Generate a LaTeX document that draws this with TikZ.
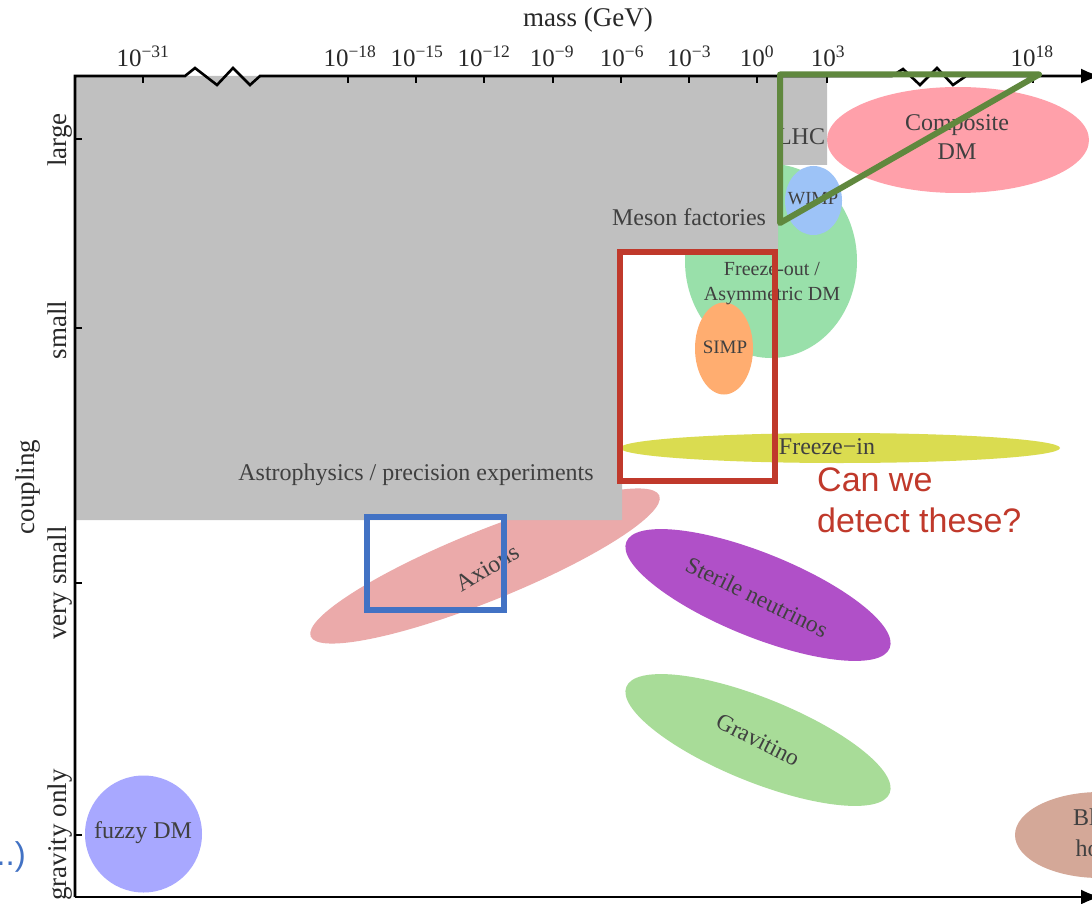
\documentclass[tikz,border=0pt]{standalone}
\usepackage{fontspec}
\setmainfont{Liberation Serif}
\newfontfamily\arialfont{Liberation Sans}
\usetikzlibrary{shapes.geometric,arrows.meta}
\definecolor{graybg}{RGB}{192,192,192}
\definecolor{txtgray}{RGB}{64,64,64}
\definecolor{axtxt}{RGB}{40,40,40}
\definecolor{cfo}{RGB}{153,224,170}
\definecolor{cwimp}{RGB}{157,195,247}
\definecolor{csimp}{RGB}{255,173,112}
\definecolor{ccomp}{RGB}{255,160,170}
\definecolor{cfi}{RGB}{218,220,80}
\definecolor{caxion}{RGB}{235,170,170}
\definecolor{cster}{RGB}{176,80,200}
\definecolor{cgrav}{RGB}{168,220,152}
\definecolor{cfuzzy}{RGB}{168,168,255}
\definecolor{cbh}{RGB}{212,168,152}
\definecolor{cgreen}{RGB}{96,136,62}
\definecolor{cred}{RGB}{192,57,43}
\definecolor{cblue}{RGB}{66,114,196}
\begin{document}
\begin{tikzpicture}[x=1pt,y=-1pt,
  every node/.style={inner sep=0pt},
  blob/.style={ellipse, inner sep=0pt, draw=none},
  plab/.style={font=\fontsize{24}{29}\selectfont, text=txtgray, align=center},
  slab/.style={font=\fontsize{20}{24.5}\selectfont, text=txtgray, align=center},
  ticklab/.style={font=\fontsize{25}{30}\selectfont, text=axtxt, anchor=base},
  axlab/.style={font=\fontsize{27}{32}\selectfont, text=axtxt, rotate=90, anchor=base},
  axisline/.style={line width=2.6pt, black, line join=miter},
  tickmark/.style={line width=2.2pt, black},
  greentri/.style={line width=6pt, cgreen, line join=round},
  redbox/.style={line width=6pt, cred},
  bluebox/.style={line width=6pt, cblue}]
\useasboundingbox (0,0) rectangle (1092,904);
\clip (0,0) rectangle (1092,904);
\fill[white] (0,0) rectangle (1092,904);

% dark matter candidate regions
\node[blob, fill=cfi, minimum width=440, minimum height=30] (freezein) at (840,448) {};
\node[blob, fill=cfo, minimum width=172, minimum height=194] (freezeout) at (771,261) {};
\node[blob, fill=cwimp, minimum width=57, minimum height=69] (wimp) at (813.5,200.5) {};
\node[blob, fill=csimp, minimum width=58, minimum height=92] (simp) at (724,348.5) {};
\node[blob, fill=ccomp, minimum width=262, minimum height=106] (comp) at (958,140) {};
\node[blob, fill=caxion, minimum width=376, minimum height=70, rotate=22] (axion) at (485,566) {};
\node[blob, fill=cster, minimum width=284, minimum height=84, rotate=-22] (sterile) at (758,595) {};
\node[blob, fill=cgrav, minimum width=284, minimum height=84, rotate=-22] (gravitino) at (758,740) {};
\node[circle, fill=cfuzzy, minimum size=117] (fuzzy) at (143.5,834) {};
\node[blob, fill=cbh, minimum width=170, minimum height=86] (bh) at (1100,835) {};

% excluded region
\fill[graybg] (75,76) -- (827,76) -- (827,165) -- (778,165) -- (778,250) -- (622,250) -- (622,520) -- (75,520) -- cycle;

% labels in the plot
\node[plab] (lhc) at (801,137) {LHC};
\node[plab] (meson) at (689,217) {Meson factories};
\node[plab] (astro) at (416,475) {Astrophysics / precision experiments};
\node[plab] (complab) at (957,137.5) {Composite\\DM};
\node[slab, font=\fontsize{18.5}{22}\selectfont] (wimplab) at (813,199) {WIMP};
\node[slab] (folab) at (772,283.5) {Freeze-out /\\Asymmetric DM};
\node[slab, font=\fontsize{19}{22}\selectfont] (simplab) at (725,347) {SIMP};
\node[plab] (filab) at (827,447) {Freeze−in};
\node[plab, font=\fontsize{24}{28}\selectfont, rotate=31] (axlabel) at (487,568) {Axions};
\node[plab, font=\fontsize{23.5}{28}\selectfont, rotate=-26] (sterlab) at (757,597) {Sterile neutrinos};
\node[plab, font=\fontsize{23.5}{28}\selectfont, rotate=-27] (gravlab) at (758,740) {Gravitino};
\node[plab] (fuzzlab) at (143,833) {fuzzy DM};
\node[plab, font=\fontsize{24}{31}\selectfont] (bhlab) at (1101,833) {Black\\holes};

% axes
\draw[axisline, -{Latex[length=20pt,width=15pt]}] (75,897) -- (75,76) -- (185,76) -- (195,68) -- (217,85) -- (233,68) -- (250,85) -- (260,76)
  -- (892,76) -- (903,69) -- (920,85) -- (937,68) -- (953,85) -- (966,76) -- (1101,76);
\draw[axisline, -{Latex[length=20pt,width=15pt]}] (75,897) -- (1101,897);
\foreach \x in {143,348,416,484,553,621,689,757,827,1033}
  \draw[tickmark] (\x,76) -- (\x,83);
\foreach \y in {139,328,583,835}
  \draw[tickmark] (75,\y) -- (82,\y);
\foreach \x/\e in {143/−31,350/−18,417/−15,484/−12,552/−9,622/−6,689/−3,757/0,828/3,1032/18}
  \node[ticklab] at (\x,67) {10\textsuperscript{\e}};
\node[ticklab, font=\fontsize{27}{32}\selectfont] (masslab) at (588,27) {mass (GeV)};
\node[axlab] (large) at (66,140) {large};
\node[axlab] (small) at (66,330) {small};
\node[axlab] (vsmall) at (66,583) {very small};
\node[axlab] (gonly) at (66,835) {gravity only};
\node[axlab] (coupling) at (34,487) {coupling};

% highlight boxes
\draw[greentri] (780,74.5) -- (1039,74.5) -- (780,223) -- cycle;
\draw[redbox] (619.5,251.5) rectangle (775,481);
\draw[bluebox] (366.5,516.7) rectangle (503.5,609.5);

\node[font=\arialfont\fontsize{34}{41}\selectfont, text=cred, align=left, anchor=west] (question) at (817,500) {Can we\\detect these?};
\node[font=\arialfont\fontsize{33}{40}\selectfont, text=cblue, anchor=east] (dots) at (26,857) {..)};
\end{tikzpicture}
\end{document}
